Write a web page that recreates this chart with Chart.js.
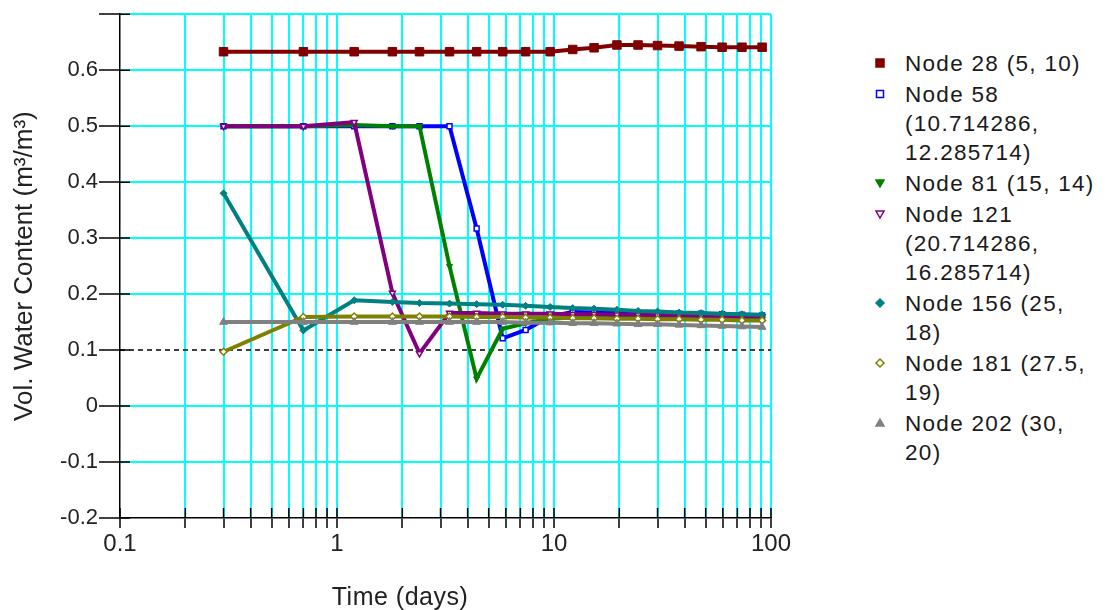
<!DOCTYPE html>
<html>
<head>
<meta charset="utf-8">
<script src="https://cdn.jsdelivr.net/npm/chart.js@4.4.1/dist/chart.umd.min.js"></script>
<style>
  body { margin: 0; background: #fff; }
  #wrap { position: relative; width: 1112px; height: 610px; font-family: "Liberation Sans", Arial, sans-serif; }
  #plot { position: absolute; left: 0; top: 0; width: 860px; height: 610px; }
  #xtitle { position: absolute; left: 250px; width: 300px; top: 581px; text-align: center;
    font-size: 25px; line-height: 30px; letter-spacing: 0.5px; color: #222; }
  #legend { position: absolute; left: 866px; top: 49px; color: #1a1a1a; }
  .item { position: relative; padding-left: 39px; width: 196px; margin-bottom: 2px;
    font-size: 22.5px; line-height: 29px; letter-spacing: 1.3px; }
  .item svg { position: absolute; left: 8px; top: 8px; }
</style>
</head>
<body>
<div id="wrap">
  <div id="plot"><canvas id="chart"></canvas></div>
  <div id="xtitle">Time (days)</div>
  <div id="legend"></div>
</div>
<script>
// time axis (days), shared by all nodes
var timeDays = [0.3, 0.7, 1.2, 1.8, 2.4, 3.3, 4.4, 5.8, 7.4, 9.6, 12.2, 15.3, 19.5, 24.4, 30, 37.7, 47.6, 59.5, 73.5, 91];

// volumetric water content per node
var node28 = [0.633, 0.633, 0.633, 0.633, 0.633, 0.633, 0.633, 0.633, 0.633, 0.633, 0.637, 0.640, 0.645, 0.645, 0.644, 0.643, 0.642, 0.641, 0.641, 0.641];
var node58 = [0.5, 0.5, 0.5, 0.5, 0.5, 0.5, 0.317, 0.121, 0.136, 0.16, 0.168, 0.167, 0.167, 0.166, 0.166, 0.165, 0.165, 0.164, 0.163, 0.162];
var node81 = [0.5, 0.5, 0.502, 0.5, 0.5, 0.25, 0.049, 0.138, 0.148, 0.156, 0.158, 0.158, 0.158, 0.158, 0.157, 0.157, 0.157, 0.156, 0.156, 0.156];
var node121 = [0.5, 0.5, 0.507, 0.202, 0.094, 0.166, 0.166, 0.165, 0.165, 0.165, 0.164, 0.164, 0.163, 0.163, 0.162, 0.162, 0.161, 0.161, 0.160, 0.160];
var node156 = [0.38, 0.135, 0.189, 0.186, 0.184, 0.183, 0.182, 0.181, 0.179, 0.177, 0.175, 0.174, 0.172, 0.170, 0.169, 0.167, 0.166, 0.165, 0.164, 0.163];
var node181 = [0.097, 0.159, 0.160, 0.160, 0.160, 0.160, 0.159, 0.159, 0.158, 0.158, 0.157, 0.157, 0.156, 0.156, 0.155, 0.155, 0.154, 0.154, 0.153, 0.153];
var node202 = [0.150, 0.150, 0.150, 0.150, 0.150, 0.150, 0.150, 0.150, 0.149, 0.149, 0.148, 0.148, 0.147, 0.146, 0.146, 0.145, 0.144, 0.143, 0.142, 0.141];

var seriesNames = ["Node 28 (5, 10)", "Node 58 (10.714286, 12.285714)", "Node 81 (15, 14)",
  "Node 121 (20.714286, 16.285714)", "Node 156 (25, 18)", "Node 181 (27.5, 19)", "Node 202 (30, 20)"];
var seriesValues = [node28, node58, node81, node121, node156, node181, node202];

// dashed reference level
var thresholdLine = 0.1;

// axis ticks
var xMajorLabels = [0.1, 1, 10, 100];
var xTickValues = [];
[0.1, 1, 10].forEach(function (d) {
  for (var k = 1; k <= 9; k++) xTickValues.push(Math.round(d * k * 1000) / 1000);
});
xTickValues.push(100);

// marker style per series: [color, pointStyle, rotation, hollow, radius]
var styles = [
  ["#800000", "rect", 0, false, 6],
  ["#0000FF", "rect", 0, true, 3.5],
  ["#008000", "triangle", 180, false, 3.5],
  ["#800080", "triangle", 180, true, 3.5],
  ["#008080", "rectRot", 0, false, 3.5],
  ["#808000", "rectRot", 0, true, 3.5],
  ["#808080", "triangle", 0, false, 4.5],
];

var datasets = seriesValues.map(function (vals, i) {
  var s = styles[i];
  return {
    label: seriesNames[i],
    data: timeDays.map(function (t, j) { return { x: t, y: vals[j] }; }),
    borderColor: s[0],
    borderWidth: 4,
    tension: 0,
    pointStyle: s[1],
    pointRotation: s[2],
    pointRadius: s[4],
    pointBackgroundColor: s[3] ? "#fff" : s[0],
    pointBorderColor: s[0],
    pointBorderWidth: s[3] ? 1.5 : 1,
    order: seriesValues.length - i,
  };
});

datasets.push({
  label: "threshold",
  data: [{ x: 0.1, y: thresholdLine }, { x: 100, y: thresholdLine }],
  borderColor: "#000",
  borderWidth: 1.5,
  borderDash: [5, 4],
  pointRadius: 0,
  order: 99,
});

// black ticks crossing the axes on the inner side
var innerTicks = {
  id: "innerTicks",
  beforeDatasetsDraw: function (chart) {
    var ctx = chart.ctx, a = chart.chartArea;
    ctx.save();
    ctx.strokeStyle = "#000";
    ctx.lineWidth = 1.5;
    ctx.beginPath();
    chart.scales.x.ticks.forEach(function (t) {
      var px = chart.scales.x.getPixelForValue(t.value);
      ctx.moveTo(px, a.bottom);
      ctx.lineTo(px, a.bottom - 10);
    });
    chart.scales.y.ticks.forEach(function (t) {
      var py = chart.scales.y.getPixelForValue(t.value);
      ctx.moveTo(a.left, py);
      ctx.lineTo(a.left + 10, py);
    });
    ctx.stroke();
    ctx.restore();
  },
};

new Chart(document.getElementById("chart").getContext("2d"), {
  type: "line",
  data: { datasets: datasets },
  plugins: [innerTicks],
  options: {
    responsive: true,
    maintainAspectRatio: false,
    animation: false,
    layout: { padding: { top: 13, right: 89, left: 0, bottom: 0 } },
    plugins: { legend: { display: false }, tooltip: { enabled: false } },
    scales: {
      x: {
        type: "logarithmic",
        min: 0.1,
        max: 100,
        afterBuildTicks: function (scale) {
          scale.ticks = xTickValues.map(function (v) { return { value: v }; });
        },
        afterFit: function (scale) { scale.height = 92; },
        grid: {
          color: function (c) { return c.tick && c.tick.value === 0.1 ? "rgba(0,0,0,0)" : "#00FFFF"; },
          lineWidth: 2,
          tickColor: "#000",
          tickWidth: 1.5,
          tickLength: 10,
        },
        border: { color: "#000", width: 1.5 },
        ticks: {
          autoSkip: false,
          maxRotation: 0,
          padding: 2,
          color: "#222",
          font: { family: "Liberation Sans", size: 24 },
          callback: function (v) { return xMajorLabels.indexOf(v) >= 0 ? String(v) : ""; },
        },
      },
      y: {
        min: -0.2,
        max: 0.7,
        afterFit: function (scale) { scale.width = 120; },
        grid: {
          color: function (c) {
            if (!c.tick) return "#00FFFF";
            var v = c.tick.value;
            return Math.abs(v - 0.1) < 1e-6 || Math.abs(v + 0.2) < 1e-6 ? "rgba(0,0,0,0)" : "#00FFFF";
          },
          lineWidth: 2,
          tickColor: "#000",
          tickWidth: 1.5,
          tickLength: 21,
        },
        border: { color: "#000", width: 1.5 },
        ticks: {
          stepSize: 0.1,
          padding: 1,
          color: "#222",
          font: { family: "Liberation Sans", size: 22 },
          callback: function (v) { return v > 0.65 ? "" : String(Math.round(v * 10) / 10); },
        },
        title: {
          display: true,
          text: "Vol. Water Content (m³/m³)",
          color: "#222",
          font: { family: "Liberation Sans", size: 26 },
          padding: { top: 9, bottom: 0 },
        },
      },
    },
  },
});

// legend with wrapped labels
var legend = document.getElementById("legend");
seriesNames.forEach(function (name, i) {
  var s = styles[i];
  var fill = s[3] ? "#fff" : s[0];
  var shape;
  if (s[1] === "rect") {
    shape = s[3] ? '<rect x="2.5" y="2.5" width="7" height="7"/>' : '<rect x="2" y="2" width="8" height="8"/>';
  } else if (s[1] === "rectRot") {
    shape = '<polygon points="6,2 10,6 6,10 2,6"/>';
  } else if (s[2] === 180) {
    shape = '<polygon points="2,3 10,3 6,10"/>';
  } else {
    shape = '<polygon points="6,2 10,9 2,9"/>';
  }
  var item = document.createElement("div");
  item.className = "item";
  item.innerHTML = '<svg width="12" height="12" fill="' + fill + '" stroke="' + s[0] + '" stroke-width="1.5">' +
    shape + "</svg>" + name;
  legend.appendChild(item);
});
</script>
</body>
</html>
